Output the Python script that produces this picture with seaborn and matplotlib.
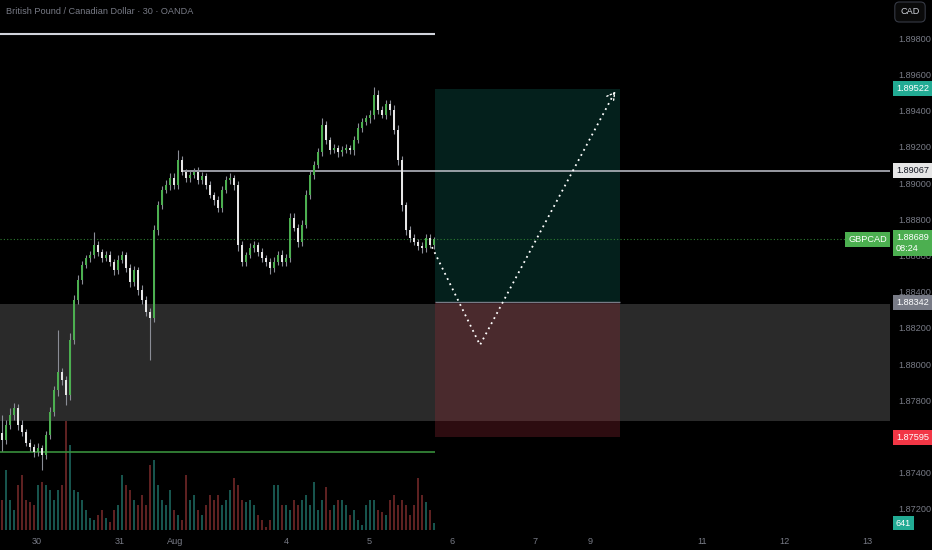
import numpy as np
import matplotlib.pyplot as plt
import matplotlib.transforms as mtransforms
import seaborn as sns

# GBPCAD 30m chart with long position tool
sns.set_theme(style='dark')
plt.rcParams['font.family'] = ['Liberation Sans', 'DejaVu Sans']

# candle data (one candle per ~1h)
first_open = 1.87620
closes = [1.87580, 1.87663, 1.87718, 1.87757, 1.87663, 1.87624, 1.87564, 1.87541, 1.87514, 1.87536,
          1.87497, 1.87608, 1.87735, 1.87856, 1.87956, 1.87912, 1.87829, 1.88133, 1.88354, 1.88464,
          1.88547, 1.88586, 1.88602, 1.88657, 1.88619, 1.88586, 1.88602, 1.88564, 1.88519, 1.88575,
          1.88602, 1.88530, 1.88453, 1.88519, 1.88409, 1.88354, 1.88287, 1.88254, 1.88740, 1.88878,
          1.88961, 1.88989, 1.89028, 1.88989, 1.89127, 1.89061, 1.89028, 1.89044, 1.89061, 1.89017,
          1.89039, 1.88989, 1.88934, 1.88906, 1.88862, 1.88961, 1.89017, 1.89028, 1.88989, 1.88657,
          1.88564, 1.88602, 1.88641, 1.88657, 1.88619, 1.88586, 1.88564, 1.88530, 1.88564, 1.88602,
          1.88564, 1.88586, 1.88807, 1.88751, 1.88674, 1.88768, 1.88934, 1.89044, 1.89099, 1.89171,
          1.89320, 1.89238, 1.89182, 1.89193, 1.89171, 1.89182, 1.89193, 1.89182, 1.89238, 1.89304,
          1.89337, 1.89359, 1.89376, 1.89486, 1.89403, 1.89376, 1.89436, 1.89403, 1.89293, 1.89127,
          1.88878, 1.88740, 1.88696, 1.88674, 1.88652, 1.88641, 1.88696, 1.88657, 1.88689]
# wick lengths in 1e-5
wick_up = [100, 30, 40, 30, 20, 25, 15, 20, 15, 25, 15, 20, 30, 25, 230, 20, 20, 40, 30, 25,
           20, 15, 25, 70, 20, 15, 20, 25, 15, 30, 20, 15, 25, 20, 15, 30, 20, 20, 30, 25,
           20, 25, 30, 25, 55, 20, 15, 25, 20, 30, 20, 15, 20, 15, 20, 25, 20, 30, 15, 20,
           20, 15, 25, 20, 15, 20, 15, 20, 25, 20, 30, 20, 25, 30, 20, 25, 30, 20, 25, 20,
           40, 25, 15, 20, 15, 20, 25, 15, 20, 25, 20, 15, 25, 45, 30, 20, 25, 20, 30, 25,
           20, 15, 20, 25, 15, 20, 25, 20, 15]
wick_dn = [60, 20, 20, 25, 25, 20, 15, 20, 25, 20, 80, 20, 25, 20, 30, 30, 55, 30, 20, 25,
           20, 15, 20, 15, 20, 25, 15, 20, 25, 20, 15, 20, 25, 20, 30, 25, 20, 230, 20, 25,
           20, 15, 25, 20, 20, 15, 25, 20, 15, 20, 25, 20, 15, 25, 20, 20, 15, 20, 25, 30,
           25, 20, 15, 20, 25, 20, 25, 30, 20, 15, 20, 25, 20, 15, 30, 20, 15, 25, 20, 15,
           20, 25, 20, 15, 25, 20, 15, 20, 25, 15, 20, 15, 25, 20, 20, 15, 20, 25, 20, 30,
           35, 25, 20, 15, 20, 25, 20, 15, 20]
volumes = [2700, 5400, 2700, 1800, 4050, 4950, 2700, 2520, 2250, 4050,
           4320, 4050, 3600, 2700, 3600, 4050, 10800, 7650, 3600, 3420,
           2700, 1800, 1080, 900, 1350, 1800, 1080, 720, 1800, 2250,
           4950, 4050, 3600, 2700, 2250, 3150, 2250, 5850, 6300, 4050,
           2700, 2250, 3600, 1800, 1350, 900, 4950, 2700, 3150, 1800,
           1350, 2250, 3150, 2700, 3150, 2250, 2700, 3600, 4680, 4050,
           2700, 2520, 2700, 2250, 1350, 900, 270, 900, 4050, 4050,
           2250, 2250, 1800, 2700, 2250, 2700, 3150, 2250, 4320, 1800,
           2700, 3870, 1800, 2250, 2700, 2700, 2250, 1350, 1800, 900,
           450, 2250, 2700, 2700, 1800, 1620, 1350, 2700, 3150, 2250,
           2700, 2250, 1350, 2250, 4680, 3150, 2520, 1800, 641]

# 1.876 sits behind the stop label, so it has no text
price_ticks = [1.872, 1.874, 1.876, 1.878, 1.880, 1.882, 1.884, 1.886,
               1.888, 1.890, 1.892, 1.894, 1.896, 1.898]
price_labels = ['1.87200', '1.87400', '', '1.87800', '1.88000', '1.88200', '1.88400', '1.88600',
                '1.88800', '1.89000', '1.89200', '1.89400', '1.89600', '1.89800']
day_ticks = [8.75, 29.5, 43.25, 71, 91.75, 112.5, 133.25, 147, 175, 195.5, 216.25]
day_labels = ['30', '31', 'Aug', '4', '5', '6', '7', '9', '11', '12', '13']

# drawings
top_line = 1.89823
support_line = 1.87514
resist_line = 1.89067
zone_lo, zone_hi = 1.87685, 1.88331
entry, target, stop = 1.88342, 1.89522, 1.87595
last_price = 1.88689
pos_x = [108.25, 154.5]
path_x = [107.5, 119.5, 153.5]
path_y = [1.88646, 1.88105, 1.89514]

BG = '#000000'
GREY = '#787b86'

fig = plt.figure(figsize=(9.32, 5.5), dpi=100, facecolor=BG)
ax = fig.add_axes([0, 20 / 550, 890 / 932, 530 / 550])
axv = fig.add_axes([0, 20 / 550, 890 / 932, 150 / 550], sharex=ax)
ax.set_zorder(2)
axv.set_zorder(1)
ax.patch.set_visible(False)
axv.patch.set_visible(False)

ax.set_xlim(-0.5, 222)
ax.set_ylim(1.87083, 1.90011)

n = len(closes)
idx = np.arange(n)
c = np.array(closes)
o = np.array([first_open] + closes[:-1])
up = c >= o
hi = np.maximum(o, c) + np.array(wick_up) * 1e-5
lo = np.minimum(o, c) - np.array(wick_dn) * 1e-5

# zone + position
ax.axhspan(zone_lo, zone_hi, color='#2a2a2a', lw=0, zorder=0.5)
ax.fill_between(pos_x, entry, target, color='#04201c', lw=0, zorder=1)
ax.fill_between(pos_x, stop, entry, color='#942a34', alpha=0.31, lw=0, zorder=1)
ax.hlines(entry, pos_x[0], pos_x[1], color=GREY, lw=1, zorder=1.2)

# lines
ax.hlines(top_line, -0.5, pos_x[0], color='#d1d4dc', lw=1.5, zorder=2)
ax.hlines(support_line, -0.5, pos_x[0], color='#388e3c', lw=1.2, zorder=2)
ax.hlines(resist_line, 45, 222, color='#b2b5be', lw=1.2, zorder=2)
ax.axhline(last_price, color='#2e7d32', lw=0.8, ls=(0, (1, 2)), zorder=1.5)

# candles
ax.vlines(idx, lo, hi, color='#8a8d96', lw=0.8, zorder=3)
body = np.maximum(np.abs(c - o), 3e-5)
ax.bar(idx, body, bottom=np.minimum(o, c), width=0.6,
       color=np.where(up, '#4caf50', '#e6e6e6'), lw=0, zorder=4)

# volume
axv.bar(idx, volumes, width=0.6, color=np.where(up, '#17544d', '#5e2121'), lw=0)
axv.set_ylim(0, 13500)
axv.axis('off')

# projected path
sns.lineplot(x=path_x, y=path_y, sort=False, ax=ax, color='white', lw=1.3,
             linestyle=(0, (1, 2.2)), zorder=5)
ax.annotate('', xy=(path_x[-1] + 0.3, path_y[-1] + 0.00003),
            xytext=(path_x[-1] - 1.0, path_y[-1] - 0.00035),
            arrowprops=dict(arrowstyle='->,head_length=0.45,head_width=0.25',
                            color='white', lw=1.0, linestyle=':'), zorder=5)

# axes styling
ax.yaxis.tick_right()
ax.set_yticks(price_ticks)
ax.set_yticklabels(price_labels)
ax.set_xticks(day_ticks)
ax.set_xticklabels(day_labels)
ax.tick_params(axis='both', length=0, colors=GREY, labelsize=6.6)
ax.tick_params(axis='y', pad=6)
ax.tick_params(axis='x', pad=5)
ax.grid(False)
for s in ax.spines.values():
    s.set_visible(False)

# price labels on the right
tr = mtransforms.blended_transform_factory(fig.transFigure, ax.transData)
lx = 896 / 932


def price_tag(y, txt, bg, fg='white', x=lx, va='center', ha='left'):
    ax.text(x, y, txt, transform=tr, ha=ha, va=va, fontsize=6.6, color=fg,
            zorder=10, clip_on=False, linespacing=1.3,
            bbox=dict(boxstyle='square,pad=0.32', fc=bg, ec='none'))


price_tag(target, f'{target:.5f}', '#22ab94')
price_tag(resist_line, f'{resist_line:.5f}', '#e6e6e6', fg='#131722')
price_tag(last_price + 0.00036, f'{last_price:.5f}\n08:24', '#4caf50', va='top')
price_tag(last_price, 'GBPCAD', '#4caf50', x=887 / 932, ha='right')
price_tag(entry, f'{entry:.5f}', '#787b86')
price_tag(stop, f'{stop:.5f}', '#f23645')

fig.text(896 / 932, 1 - 523 / 550, f'{volumes[-1]}', ha='left', va='center',
         fontsize=6.6, color='white',
         bbox=dict(boxstyle='square,pad=0.32', fc='#22ab94', ec='none'))
fig.text(910 / 932, 1 - 12 / 550, 'CAD', ha='center', va='center', fontsize=6.6,
         color='#d1d4dc',
         bbox=dict(boxstyle='round,pad=0.6,rounding_size=0.5', fc='#0a0a0a', ec='#363a45', lw=0.8))
fig.text(6 / 932, 1 - 12 / 550, 'British Pound / Canadian Dollar · 30 · OANDA',
         ha='left', va='center', fontsize=6.6, color=GREY)

fig.savefig('out.png', dpi=100, facecolor=BG)
